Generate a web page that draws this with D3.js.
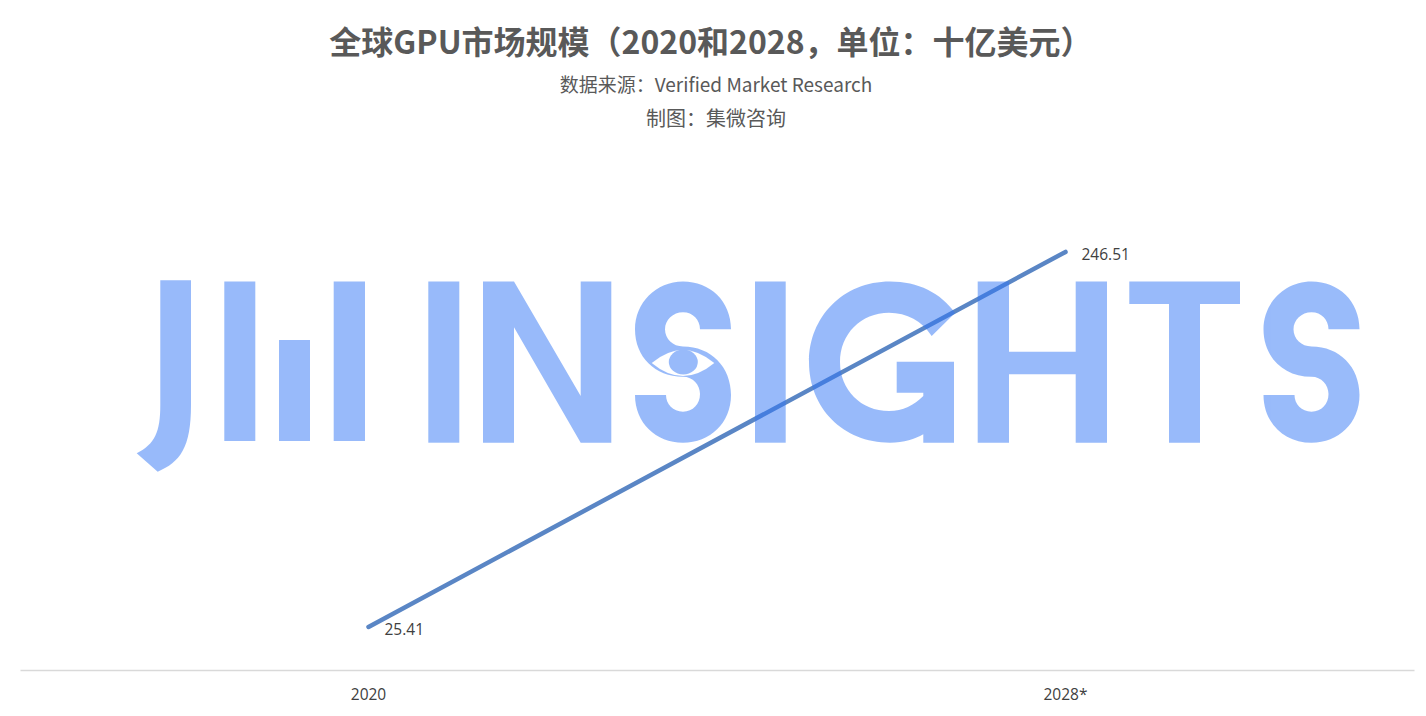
<!DOCTYPE html>
<html>
<head>
<meta charset="utf-8">
<script src="https://cdn.jsdelivr.net/npm/d3@7"></script>
<style>
  html, body { margin: 0; padding: 0; background: #ffffff; }
  svg { display: block; }
</style>
</head>
<body>
<svg id="chart" width="1426" height="716"></svg>
<script>
// ---- data ----
const categories = ["2020", "2028*"];
const values = [25.41, 246.51];
const valueLabels = ["25.41", "246.51"];
const titleText = "全球GPU市场规模（2020和2028，单位：十亿美元）";
const subtitleLines = ["数据来源：Verified Market Research", "制图：集微咨询"];

// ---- layout ----
const W = 1426, H = 716;
const svg = d3.select("#chart");
svg.append("rect").attr("width", W).attr("height", H).attr("fill", "#ffffff");

const x = d3.scaleBand().domain(categories).range([20, 1414]).padding(0);
const y = d3.scaleLinear().domain([0, 300]).range([670, 161.2]);
const cx = d => x(d) + x.bandwidth() / 2;

// titles
svg.append("text")
  .attr("x", 711).attr("y", 54)
  .attr("text-anchor", "middle")
  .attr("font-family", "'Noto Sans CJK SC', sans-serif")
  .attr("font-weight", 700).attr("font-size", 32)
  .attr("fill", "#595959")
  .text(titleText);

svg.selectAll("text.sub").data(subtitleLines).enter().append("text")
  .attr("class", "sub")
  .attr("x", 716).attr("y", (d, i) => 92 + i * 34)
  .attr("text-anchor", "middle")
  .attr("font-family", "'Noto Sans CJK SC', sans-serif")
  .attr("font-size", (d, i) => i === 0 ? 19 : 20)
  .attr("fill", "#595959")
  .text(d => d);

// category axis
const axis = d3.axisBottom(x).tickSize(0).tickPadding(0);
const gx = svg.append("g").attr("transform", "translate(0,670)").call(axis);
gx.select(".domain").attr("stroke", "#d9d9d9").attr("stroke-width", 1.5);
gx.selectAll(".tick text")
  .attr("dy", 0).attr("y", 30)
  .attr("font-family", "'Open Sans', sans-serif")
  .attr("font-size", 15.5)
  .attr("fill", "#404040");

// data line
const pts = categories.map((c, i) => ({ c, v: values[i], lab: valueLabels[i] }));
const line = d3.line().x(d => cx(d.c)).y(d => y(d.v));
svg.append("path").datum(pts)
  .attr("d", line)
  .attr("fill", "none")
  .attr("stroke", "#5a86c5")
  .attr("stroke-width", 4.5)
  .attr("stroke-linecap", "round");

// data labels
svg.selectAll("text.lab").data(pts).enter().append("text")
  .attr("class", "lab")
  .attr("x", d => cx(d.c) + 16)
  .attr("y", d => y(d.v) + 8)
  .attr("font-family", "'Open Sans', sans-serif")
  .attr("font-size", 15.5)
  .attr("fill", "#404040")
  .text(d => d.lab);

// ---- watermark logo (decoration) ----
const wm = svg.append("g").attr("opacity", 0.5).attr("fill", "#3478f6");
const T = 281.5, B = 442.7;
// J
wm.append("path").attr("d", "M160.3,280.3 H191 V405 C191,448 180,462 157.7,471.7 L136.7,453.3 C155,444 160.3,432 160.3,405 Z");
// bars
[[224.3, 255.3, T], [279, 310, 340], [333.7, 365, T]].forEach(b =>
  wm.append("rect").attr("x", b[0]).attr("y", b[2]).attr("width", b[1] - b[0]).attr("height", 441 - b[2]));
// I
wm.append("rect").attr("x", 428.3).attr("y", T).attr("width", 31).attr("height", B - T);
// N
wm.append("path").attr("d", `M483,${T} L514,${T} L580.7,396 L580.7,${T} L611.3,${T} L611.3,${B} L580.7,${B} L514,327.3 L514,${B} L483,${B} Z`);
// S shape
function sPath(x0) {
  const X = v => (x0 + v).toFixed(1);
  return `M${X(96)},329.3 C${X(96)},301 ${X(75)},${T} ${X(48)},${T} C${X(21)},${T} ${X(0)},303 ${X(0)},329.3 ` +
    `C${X(0)},357 ${X(20)},376.7 ${X(48)},376.7 C${X(58)},376.7 ${X(65)},385 ${X(65)},394 ` +
    `C${X(65)},404 ${X(58)},411.7 ${X(48)},411.7 C${X(38)},411.7 ${X(31)},404 ${X(31)},395 L${X(0)},395 ` +
    `C${X(0)},423 ${X(21)},${B} ${X(48)},${B} C${X(75)},${B} ${X(96)},423 ${X(96)},395 ` +
    `C${X(96)},367 ${X(76)},346.5 ${X(48)},346.5 C${X(38)},346.5 ${X(30)},339 ${X(30)},329.3 ` +
    `C${X(30)},320 ${X(38)},312.3 ${X(48)},312.3 C${X(58)},312.3 ${X(65)},320 ${X(65)},329.3 Z`;
}
wm.append("path").attr("d", sPath(635));
// eye on first S
wm.append("path").attr("fill", "#ffffff")
  .attr("d", "M651.7,363 Q683,337 714.3,363 Q683,389 651.7,363 Z");
wm.append("ellipse").attr("cx", 683.3).attr("cy", 362).attr("rx", 14.5).attr("ry", 12.5);
// I
wm.append("rect").attr("x", 755).attr("y", T).attr("width", 30.7).attr("height", B - T);
// G
wm.append("path").attr("d",
  `M955,313 C941,293 918,${T} 890,${T} C843,${T} 809,317 809,362 C809,408 843,${B} 890,${B} ` +
  `C904,${B} 915,439 923.3,434.3 L923.3,${B} L954,${B} L954,361.7 L896.7,361.7 L896.7,392.7 L923.3,392.7 L923.3,396 ` +
  `C914,405 903,411 889,411 C861,411 840,390 840,362 C840,334 861,312.7 889,312.7 C907,312.7 922,321 931.7,336 Z`);
// H
wm.append("path").attr("d", `M977.7,${T} H1009 V351.7 H1075.7 V${T} H1107 V${B} H1075.7 V374.3 H1009 V${B} H977.7 Z`);
// T
wm.append("path").attr("d", `M1129.3,${T} H1240 V304 H1200 V${B} H1169 V304 H1129.3 Z`);
// S
wm.append("path").attr("d", sPath(1263.5));
</script>
</body>
</html>
